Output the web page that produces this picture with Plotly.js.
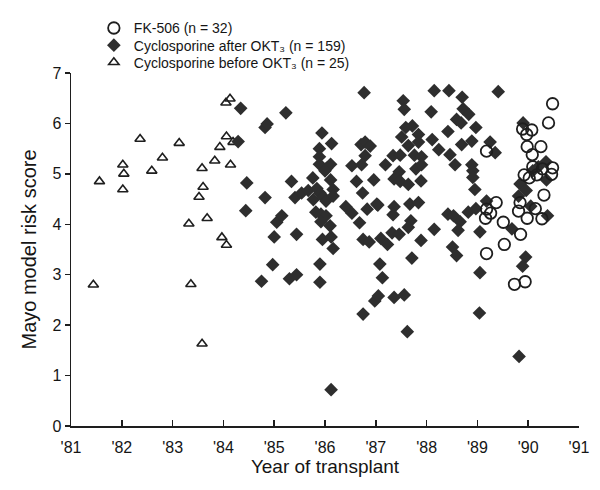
<!DOCTYPE html>
<html>
<head>
<meta charset="utf-8">
<script src="https://cdn.plot.ly/plotly-3.0.1.min.js"></script>
<style>html,body{margin:0;padding:0;background:#fff;}#chart{width:600px;height:490px;}</style>
</head>
<body>
<div id="chart"></div>
<script>
// Year ticks
const tickYears = [81, 82, 83, 84, 85, 86, 87, 88, 89, 90, 91];
const tickLabels = ["'81", "'82", "'83", "'84", "'85", "'86", "'87", "'88", "'89", "'90", "'91"];

// FK-506 (open circles)
const fkYear = [89.18, 90.48, 90.40, 89.89, 90.07, 89.97, 89.98, 90.25, 90.08, 89.92, 90.02, 90.28, 90.48, 90.46, 90.31, 89.37,
  89.18, 89.26, 89.16, 89.51, 89.84, 89.81, 89.98, 90.14, 90.27, 89.85, 89.53, 89.18, 89.73, 89.94, 90.17, 90.09];
const fkScore = [5.45, 6.39, 6.01, 5.89, 5.87, 5.78, 5.54, 5.54, 5.38, 4.98, 4.92, 5.10, 5.12, 4.99, 4.58, 4.43,
  4.30, 4.22, 4.12, 4.04, 4.43, 4.26, 4.12, 4.31, 4.11, 3.80, 3.60, 3.42, 2.81, 2.86, 4.98, 5.14];

// Cyclosporine after OKT3 (filled diamonds)
const csaAfterYear = [84.34, 84.29, 84.46, 84.44, 84.82, 84.86, 85.23, 84.82, 85.05, 85.15, 85.00, 85.34, 85.41, 85.44, 84.75, 84.97, 85.30, 85.44,
  85.94, 86.13, 85.89, 85.89, 85.89, 86.03, 86.11, 86.00, 86.11, 85.76, 86.71, 86.79, 86.89, 86.79, 86.53, 86.72, 86.62, 86.96, 86.77,
  85.54, 85.67, 85.77, 85.84, 85.90, 85.97, 86.02, 86.16, 86.16, 86.74, 85.82, 85.92, 86.02, 85.92, 86.10,
  85.95, 86.12, 86.16, 86.41, 86.53, 86.68, 86.83, 87.02, 86.75, 86.87, 85.90, 85.90, 86.98, 87.05, 86.75, 86.12,
  88.15, 88.44, 88.70, 87.54, 87.56, 88.09, 88.72, 88.83, 88.59, 88.68, 88.42, 88.97, 87.72, 87.59, 87.51, 87.84, 87.84, 87.64,
  88.11, 88.24, 88.69, 88.89, 88.46, 88.56, 88.89, 88.91, 88.91, 87.34, 87.48, 87.19, 87.76, 87.90, 87.79, 87.90, 87.46, 87.36,
  87.48, 87.64, 87.89, 88.95, 87.04, 87.36, 87.34, 87.67, 87.84, 87.69, 87.64, 87.32, 87.46, 87.10, 87.23, 87.89, 88.15, 88.42,
  88.53, 88.66, 88.62, 88.82, 88.51, 88.59, 87.71, 87.08, 87.13, 87.36, 87.56, 87.62,
  89.25, 89.35, 89.41, 88.97, 89.18, 89.05, 89.05, 89.04, 89.82, 89.95, 89.89, 89.84, 89.96, 89.81, 90.09, 90.20, 90.35, 90.36,
  90.05, 90.38, 89.68, 89.90];
const csaAfterScore = [6.30, 5.64, 4.82, 4.27, 5.92, 5.99, 6.21, 4.53, 4.04, 4.17, 3.75, 4.85, 4.53, 3.80, 2.87, 3.20, 2.92, 3.00,
  5.81, 5.60, 5.50, 5.34, 5.19, 5.11, 5.19, 5.06, 4.88, 4.92, 5.58, 5.63, 5.55, 5.36, 5.16, 5.18, 4.85, 4.88, 6.61,
  4.62, 4.67, 4.49, 4.71, 4.62, 4.54, 4.46, 4.69, 4.56, 4.62, 4.24, 4.20, 4.17, 4.05, 3.97,
  3.70, 3.75, 3.52, 4.35, 4.22, 4.03, 4.30, 4.40, 3.70, 3.65, 3.21, 2.85, 2.48, 2.58, 2.22, 0.72,
  6.65, 6.65, 6.52, 6.45, 6.28, 6.23, 6.29, 6.18, 6.08, 6.01, 5.84, 5.92, 5.95, 5.92, 5.73, 5.78, 5.63, 5.56,
  5.68, 5.48, 5.58, 5.65, 5.38, 5.18, 5.18, 5.06, 4.93, 5.36, 5.37, 5.18, 5.37, 5.34, 5.10, 5.18, 5.04, 4.90,
  4.85, 4.79, 4.86, 4.69, 4.38, 4.35, 4.19, 4.40, 4.43, 4.07, 3.94, 3.83, 3.80, 3.72, 3.60, 3.68, 3.90, 4.20,
  4.17, 4.05, 3.88, 4.24, 3.55, 3.38, 3.33, 3.21, 2.94, 2.55, 2.60, 1.87,
  5.63, 5.42, 6.63, 4.31, 4.46, 3.85, 3.04, 2.24, 1.38, 3.35, 3.17, 4.80, 4.67, 4.56, 5.06, 5.14, 5.24, 4.88,
  4.36, 4.17, 3.91, 6.01];

// Cyclosporine before OKT3 (open triangles)
const csaBeforeYear = [81.56, 82.02, 82.04, 82.02, 82.36, 82.59, 82.80, 83.13, 83.32, 83.52, 83.60, 83.58, 83.68,
  83.83, 83.93, 84.06, 84.05, 84.13, 84.19, 84.14, 83.97, 84.06, 81.44, 83.36, 83.58];
const csaBeforeScore = [4.85, 5.18, 5.00, 4.69, 5.69, 5.06, 5.32, 5.61, 4.01, 4.54, 4.74, 5.11, 4.12,
  5.26, 5.53, 5.74, 6.41, 6.49, 5.63, 5.18, 3.74, 3.59, 2.80, 2.81, 1.63];

const ink = '#1e1e1e';
const fontFam = '"Liberation Sans", Arial, Helvetica, "DejaVu Sans", sans-serif';
const txt = '#151515';

const traces = [
  {
    x: csaBeforeYear, y: csaBeforeScore, type: 'scatter', mode: 'markers',
    name: 'Cyclosporine before OKT\u2083 (n = 25)', legend: 'legend3',
    marker: {symbol: 'triangle-up-open', size: 9, color: ink, line: {width: 1.6, color: ink}}
  },
  {
    x: csaAfterYear, y: csaAfterScore, type: 'scatter', mode: 'markers',
    name: 'Cyclosporine after OKT\u2083 (n = 159)', legend: 'legend2',
    marker: {symbol: 'diamond', size: 10.5, color: '#2e2e2e', line: {width: 0}}
  },
  {
    x: fkYear, y: fkScore, type: 'scatter', mode: 'markers',
    name: 'FK-506 (n = 32)', legend: 'legend',
    marker: {symbol: 'circle-open', size: 11.5, color: ink, line: {width: 1.8, color: ink}}
  }
];

function legendAt(yPaper) {
  return {
    x: 0.045, xanchor: 'left', y: yPaper, yanchor: 'middle',
    font: {size: 14, family: fontFam, color: txt},
    bgcolor: 'rgba(0,0,0,0)', borderwidth: 0, itemwidth: 30, tracegroupgap: 0
  };
}

const layout = {
  width: 600, height: 490,
  margin: {l: 71, r: 21, t: 66, b: 64},
  paper_bgcolor: '#ffffff', plot_bgcolor: '#ffffff',
  font: {family: fontFam, color: txt},
  showlegend: true,
  legend: legendAt(1.1264),
  legend2: legendAt(1.0778),
  legend3: legendAt(1.0292),
  xaxis: {
    range: [81, 91], tickvals: tickYears, ticktext: tickLabels,
    showgrid: false, zeroline: false, showline: true, linecolor: ink, linewidth: 1.5,
    ticks: 'inside', ticklen: 6, tickwidth: 1.5, tickcolor: ink,
    ticklabelstandoff: 6,
    tickfont: {size: 16, family: fontFam, color: txt},
    title: {text: 'Year of transplant', font: {size: 19, family: fontFam, color: txt}, standoff: 5}
  },
  yaxis: {
    range: [0, 7], tickvals: [0, 1, 2, 3, 4, 5, 6, 7],
    showgrid: false, zeroline: false, showline: true, linecolor: ink, linewidth: 1.5,
    ticks: 'outside', ticklen: 5, tickwidth: 1.5, tickcolor: ink,
    tickfont: {size: 16, family: fontFam, color: txt},
    title: {text: 'Mayo model risk score', font: {size: 20, family: fontFam, color: txt}, standoff: 10}
  }
};

Plotly.newPlot('chart', traces, layout, {staticPlot: true, displayModeBar: false});
</script>
</body>
</html>
